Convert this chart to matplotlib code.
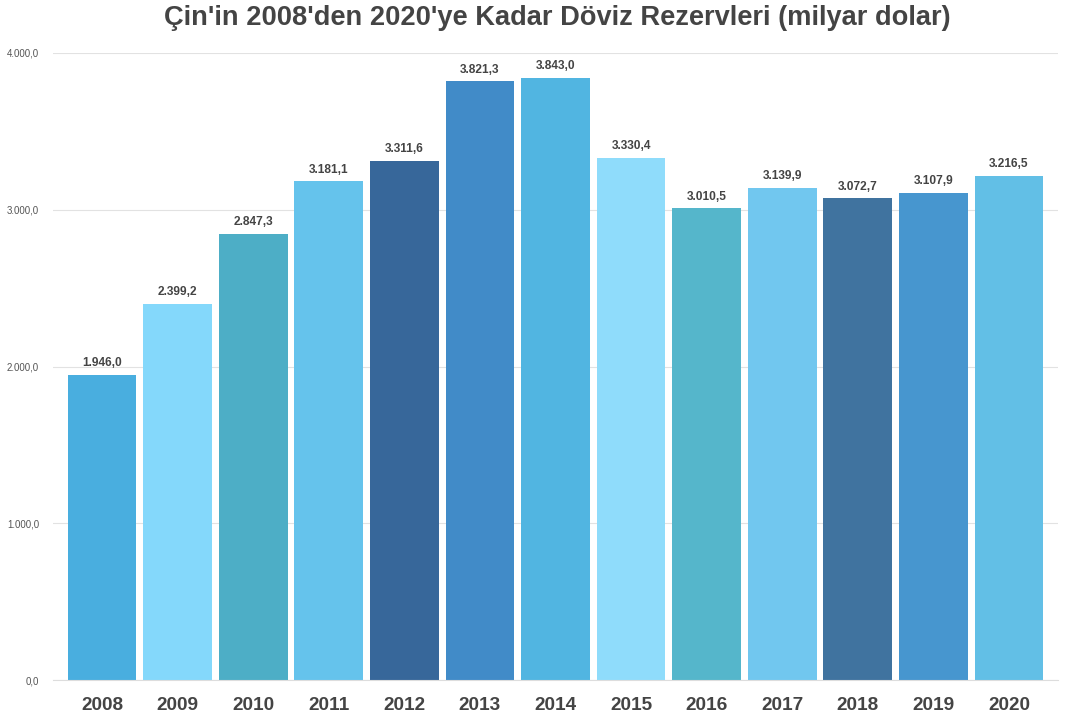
import matplotlib.pyplot as plt
import numpy as np

# data
years = ['2008', '2009', '2010', '2011', '2012', '2013', '2014',
         '2015', '2016', '2017', '2018', '2019', '2020']
reserves = [1946.0, 2399.2, 2847.3, 3181.1, 3311.6, 3821.3, 3843.0,
            3330.4, 3010.5, 3139.9, 3072.7, 3107.9, 3216.5]
colors = ['#49aedf', '#84d8fb', '#4daec6', '#65c3ec', '#37679a', '#418bc8', '#51b5e1',
          '#8fdcfb', '#55b6cb', '#71c7ef', '#40739f', '#4796cf', '#62bfe6']
yticks = [0, 1000, 2000, 3000, 4000]

def trFormat(v):
    s = '{:,.1f}'.format(v)
    return s.replace(',', '#').replace('.', ',').replace('#', '.')

plt.rcParams['font.family'] = ['Liberation Sans', 'DejaVu Sans']

fig = plt.figure(figsize=(10.73, 7.18), dpi=100)
ax = fig.add_axes([53/1073, 1-680/718, (1058-53)/1073, (680-53)/718])

x = np.arange(len(years))
bars = ax.bar(x, reserves, width=0.91, color=colors, zorder=2)

for b, v in zip(bars, reserves):
    ax.text(b.get_x() + b.get_width()/2, v + 35, trFormat(v), ha='center', va='bottom',
            fontsize=8.6, fontweight='bold', color='#444444', zorder=3)

ax.set_xlim(-0.65, 12.65)
ax.set_ylim(0, 4000)
ax.set_yticks(yticks)
ax.set_yticklabels([trFormat(t) for t in yticks], fontsize=7, color='#555555')
ax.set_xticks(x)
ax.set_xticklabels(years, fontsize=13.7, fontweight='bold', color='#444444')
ax.tick_params(axis='both', length=0)
ax.tick_params(axis='y', pad=10)
ax.tick_params(axis='x', pad=12)
ax.grid(axis='y', color='#e2e2e2', linewidth=0.8)
ax.set_axisbelow(True)
for sp in ['top', 'right', 'left']:
    ax.spines[sp].set_visible(False)
ax.spines['bottom'].set_color('#dddddd')

fig.suptitle("Çin'in 2008'den 2020'ye Kadar Döviz Rezervleri (milyar dolar)",
             x=557/1073, y=1-18/718, va='center', fontsize=19.6, fontweight='bold', color='#444444')

plt.savefig('out.png', dpi=100)
